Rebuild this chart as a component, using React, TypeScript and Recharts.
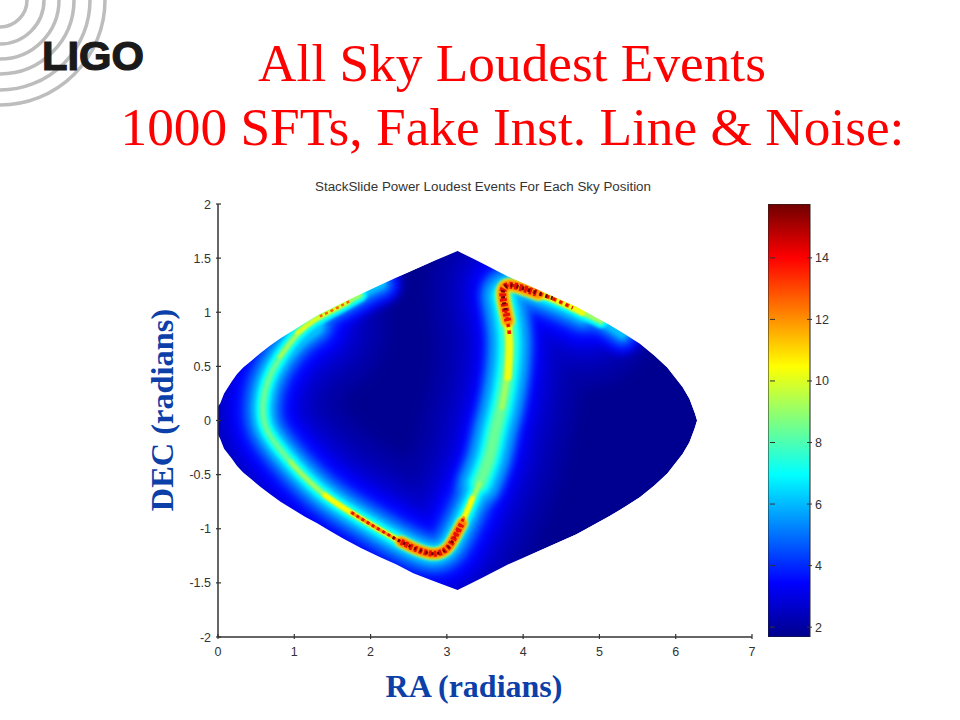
import React from "react";
import { ComposedChart, Area, Scatter, Bar, XAxis, YAxis } from "recharts";

const xTicks = [0, 1, 2, 3, 4, 5, 6, 7];
const yTicks = [-2, -1.5, -1, -0.5, 0, 0.5, 1, 1.5, 2];
const yTickLabels = ["-2", "-1.5", "-1", "-0.5", "0", "0.5", "1", "1.5", "2"];
const barTicks = [2, 4, 6, 8, 10, 12, 14];

const skyRa = [0, 0.03, 0.08, 0.18, 0.25, 0.33, 0.45, 0.55, 0.68, 0.82, 0.98, 1.14, 1.3, 1.47, 1.64, 1.88, 2.12, 2.34, 2.56, 2.85, 3.14, 3.3, 3.47, 3.8, 4.22, 4.7, 5.14, 5.33, 5.53, 5.72, 5.89, 6.0, 6.09, 6.18, 6.25, 6.28, 7];
const skyUpper = [0.13, 0.16, 0.25, 0.36, 0.43, 0.49, 0.56, 0.62, 0.69, 0.76, 0.83, 0.9, 0.97, 1.03, 1.09, 1.17, 1.25, 1.32, 1.39, 1.48, 1.565, 1.51, 1.45, 1.33, 1.2, 1.05, 0.88, 0.8, 0.71, 0.6, 0.49, 0.39, 0.31, 0.2, 0.07, 0, 0];
const skyLower = [-0.13, -0.17, -0.26, -0.35, -0.42, -0.48, -0.55, -0.61, -0.68, -0.75, -0.82, -0.89, -0.95, -1.02, -1.09, -1.18, -1.26, -1.33, -1.41, -1.49, -1.565, -1.51, -1.45, -1.33, -1.2, -1.05, -0.88, -0.8, -0.71, -0.6, -0.49, -0.39, -0.31, -0.2, -0.07, 0, 0];

const ridgeFull = [[2.14, 1.26], [2.03, 1.23], [1.86, 1.16], [1.51, 1.02], [1.25, 0.93], [1.04, 0.81], [0.81, 0.59], [0.64, 0.37], [0.58, 0.16], [0.59, -0.06], [0.81, -0.27], [1.07, -0.48], [1.34, -0.66], [1.6, -0.79], [1.95, -0.94], [2.29, -1.08], [2.56, -1.18], [2.82, -1.25], [3.01, -1.2], [3.13, -1.04], [3.26, -0.85], [3.43, -0.58], [3.57, -0.34], [3.63, -0.09], [3.72, 0.12], [3.8, 0.44], [3.83, 0.74], [3.79, 0.96], [3.71, 1.2], [3.79, 1.27], [4.05, 1.21], [4.39, 1.13], [4.78, 1.0], [5.1, 0.9], [5.3, 0.8]];
const ridgeHalo = [[1.25, 0.88], [1.04, 0.78], [0.81, 0.59], [0.64, 0.37], [0.58, 0.16], [0.59, -0.06], [0.81, -0.27], [1.07, -0.48], [1.34, -0.66], [1.6, -0.79], [1.95, -0.94], [2.29, -1.08], [2.56, -1.18], [2.82, -1.25], [3.01, -1.2], [3.13, -1.04], [3.26, -0.85], [3.43, -0.58], [3.57, -0.34], [3.63, -0.09], [3.72, 0.12], [3.8, 0.44], [3.83, 0.74], [3.79, 0.96], [3.71, 1.2], [3.79, 1.27], [4.05, 1.21], [4.39, 1.13], [4.78, 1.0]];
const ridgeBranch = [[3.43, -0.58], [3.57, -0.34], [3.63, -0.09], [3.72, 0.12], [3.8, 0.44], [3.83, 0.74], [3.79, 0.96], [3.74, 1.15]];
const ridgeGreen = [[1.86, 1.16], [1.51, 1.02], [1.25, 0.93], [1.04, 0.81], [0.81, 0.59], [0.64, 0.37], [0.58, 0.16], [0.59, -0.06], [0.81, -0.27], [1.07, -0.48], [1.34, -0.66], [1.6, -0.79], [1.95, -0.94], [2.29, -1.08], [2.56, -1.18], [2.82, -1.25], [3.01, -1.2], [3.13, -1.04], [3.26, -0.85], [3.43, -0.58], [3.57, -0.34], [3.63, -0.09], [3.72, 0.12], [3.8, 0.44], [3.83, 0.74], [3.79, 0.96], [3.71, 1.2], [3.79, 1.27], [4.05, 1.21], [4.39, 1.13], [4.78, 1.0], [5.02, 0.92]];
const limeUpper = [[1.86, 1.16], [1.51, 1.02], [1.25, 0.93], [1.04, 0.81], [0.81, 0.59]];
const limeLower = [[0.95, -0.38], [1.07, -0.48], [1.34, -0.66], [1.6, -0.79], [1.95, -0.94], [2.29, -1.08], [2.56, -1.18], [2.82, -1.25], [3.01, -1.2], [3.13, -1.04], [3.26, -0.85], [3.43, -0.58]];
const limeTop = [[3.72, 0.12], [3.8, 0.44], [3.83, 0.74], [3.79, 0.96], [3.71, 1.2], [3.79, 1.27], [4.05, 1.21], [4.39, 1.13], [4.78, 1.0], [5.02, 0.92]];
const yellowUpper = [[1.7, 1.09], [1.51, 1.02], [1.25, 0.93], [1.04, 0.81]];
const yellowLower = [[1.4, -0.69], [1.6, -0.79], [1.95, -0.94], [2.29, -1.08], [2.56, -1.18], [2.82, -1.25], [3.01, -1.2], [3.13, -1.04], [3.26, -0.85], [3.33, -0.72]];
const yellowTop = [[3.8, 0.4], [3.83, 0.74], [3.79, 0.96], [3.71, 1.2], [3.79, 1.27], [4.05, 1.21], [4.39, 1.13], [4.78, 1.0]];
const blobLower = [[2.4, -1.12], [2.56, -1.18], [2.82, -1.25], [3.01, -1.2], [3.1, -1.08], [3.2, -0.95]];
const blobTop = [[3.8, 0.92], [3.77, 1.02], [3.71, 1.2], [3.79, 1.27], [4.05, 1.21], [4.2, 1.17]];
const redUpper = [[1.72, 1.1], [1.51, 1.02], [1.33, 0.96]];
const redLower = [[1.75, -0.85], [1.95, -0.94], [2.29, -1.08], [2.56, -1.18], [2.82, -1.25], [3.01, -1.2], [3.13, -1.04], [3.22, -0.9]];
const redTop = [[3.82, 0.8], [3.79, 0.96], [3.71, 1.2], [3.79, 1.27], [4.05, 1.21], [4.39, 1.13], [4.65, 1.04]];
const darkLower = [[2.29, -1.08], [2.56, -1.18], [2.82, -1.25], [3.01, -1.2], [3.1, -1.08]];
const darkTop = [[3.77, 1.02], [3.71, 1.2], [3.79, 1.27], [4.05, 1.21], [4.39, 1.13]];

const colorbarRange = [1.68, 15.75];

const skyTable = skyRa.map((x, i) => ({
  x,
  sky: [skyLower[i], skyUpper[i]],
  above: [skyUpper[i], 2],
  below: [-2, skyLower[i]],
}));
const barTable = [{ name: "c", range: colorbarRange }];

const layers = [
  { pts: ridgeHalo, w: 150, c: "#0000a6", b: 7 },
  { pts: ridgeHalo, w: 112, c: "#0000c0", b: 7 },
  { pts: ridgeHalo, w: 84, c: "#0000dc", b: 6 },
  { pts: ridgeHalo, w: 64, c: "#0000ff", b: 5 },
  { pts: ridgeFull, w: 40, c: "#0000ff", b: 5 },
  { pts: ridgeFull, w: 28, c: "#0040ff", b: 4 },
  { pts: ridgeHalo, w: 44, c: "#0040ff", b: 4 },
  { pts: ridgeFull, w: 18, c: "#0080ff", b: 3 },
  { pts: ridgeHalo, w: 32, c: "#0080ff", b: 3 },
  { pts: ridgeBranch, w: 44, c: "#0080ff", b: 4 },
  { pts: ridgeFull, w: 10, c: "#00c0ff", b: 2 },
  { pts: ridgeHalo, w: 22, c: "#00c0ff", b: 2 },
  { pts: ridgeBranch, w: 32, c: "#00c0ff", b: 3 },
  { pts: ridgeGreen, w: 14, c: "#00ffff", b: 1.5 },
  { pts: ridgeBranch, w: 22, c: "#00ffff", b: 2 },
  { pts: ridgeGreen, w: 8, c: "#40ffc0", b: 1.2 },
  { pts: ridgeBranch, w: 13, c: "#60ffa0", b: 2 },
  { pts: ridgeGreen, w: 3, c: "#70ff90", b: 1 },
  { pts: limeUpper, w: 4, c: "#a0ff60", b: 1 },
  { pts: limeLower, w: 4, c: "#a0ff60", b: 1 },
  { pts: limeTop, w: 5, c: "#a0ff60", b: 1 },
  { pts: yellowUpper, w: 4, c: "#e0ff20", b: 1 },
  { pts: yellowLower, w: 5, c: "#ffff00", b: 1 },
  { pts: yellowTop, w: 7, c: "#f0ff10", b: 1.2 },
  { pts: blobLower, w: 12, c: "#ffe000", b: 1.5 },
  { pts: blobTop, w: 14, c: "#ffe000", b: 1.5 },
  { pts: redUpper, w: 2.5, c: "#ff6000", b: 0.4, d: "3 3" },
  { pts: redLower, w: 3, c: "#ff9000", b: 0.6 },
  { pts: blobLower, w: 9, c: "#ff8000", b: 0.8 },
  { pts: blobTop, w: 10, c: "#ff9000", b: 0.8 },
  { pts: redTop, w: 4, c: "#ff7000", b: 0.5, d: "4 3" },
  { pts: redLower, w: 3, c: "#e81000", b: 0.3, d: "3 3" },
  { pts: blobLower, w: 6, c: "#e81000", b: 0.3, d: "3 2" },
  { pts: redTop, w: 3, c: "#e81000", b: 0.3, d: "3 4" },
  { pts: blobTop, w: 7, c: "#e81000", b: 0.3, d: "3 2" },
  { pts: darkLower, w: 3, c: "#700000", b: 0, d: "2 4" },
  { pts: darkTop, w: 4, c: "#700000", b: 0, d: "2 4" },
];

const INK = "#333333";
const SERIF = "'Liberation Serif', serif";
const SANS = "'Liberation Sans', sans-serif";
const BLUE = "#0c3fa8";

const NoDot = () => <g />;

const XTick = ({ x, y, payload }: any) => (
  <g>
    <line x1={x} x2={x} y1={y} y2={y - 5} stroke={INK} strokeWidth={1.2} />
    <text x={x} y={y + 17} textAnchor="middle" fontSize={12.5} fontFamily={SANS} fill={INK}>{payload.value}</text>
  </g>
);
const YTick = ({ x, y, payload }: any) => (
  <g>
    <line x1={x} x2={x + 5} y1={y} y2={y} stroke={INK} strokeWidth={1.2} />
    <text x={x - 5} y={y + 4.5} textAnchor="end" fontSize={12.5} fontFamily={SANS} fill={INK}>
      {yTickLabels[yTicks.indexOf(payload.value)]}
    </text>
  </g>
);
const BarTick = ({ x, y, payload }: any) => (
  <g>
    <line x1={x - 5} x2={x} y1={y} y2={y} stroke={INK} strokeWidth={1} />
    <line x1={x - 42} x2={x - 37} y1={y} y2={y} stroke={INK} strokeWidth={1} />
    <text x={x + 3} y={y + 4.5} textAnchor="start" fontSize={12.5} fontFamily={SANS} fill={INK}>{payload.value}</text>
  </g>
);

export default function App() {
  return (
    <div style={{ position: "absolute", left: 0, top: 0, width: 960, height: 720, background: "#fff", overflow: "hidden" }}>
      <svg width={200} height={120} style={{ position: "absolute", left: 0, top: 0 }}>
        {[27, 44, 59, 74, 90, 105].map((r) => (
          <circle key={r} cx={0} cy={0} r={r} fill="none" stroke="#bdbdbd" strokeWidth={3.5} />
        ))}
        <text x={42} y={70} fontFamily={SANS} fontWeight={700} fontSize={40} textLength={102} lengthAdjust="spacingAndGlyphs" fill="#1a1a1a" stroke="#1a1a1a" strokeWidth={1.2}>LIGO</text>
      </svg>

      <svg width={960} height={200} style={{ position: "absolute", left: 0, top: 0 }}>
        <text x={512} y={81} textAnchor="middle" fill="#ff0000" fontFamily={SERIF} fontSize={53.3}>All Sky Loudest Events</text>
        <text x={512.5} y={145} textAnchor="middle" fill="#ff0000" fontFamily={SERIF} fontSize={53.3}>1000 SFTs, Fake Inst. Line &amp; Noise:</text>
        <text x={315} y={191} textLength={336} lengthAdjust="spacingAndGlyphs" fill={INK} fontFamily={SANS} fontSize={12}>StackSlide Power Loudest Events For Each Sky Position</text>
      </svg>

      <div style={{ position: "absolute", left: 178, top: 194 }}>
        <ComposedChart width={584} height={473} margin={{ top: 10, right: 10, left: 0, bottom: 0 }} data={skyTable}>
          <XAxis type="number" dataKey="x" domain={[0, 7]} ticks={xTicks} allowDataOverflow height={30} tickSize={0} tickLine={false} tick={<XTick />} stroke={INK} strokeWidth={1.5} interval={0} zIndex={900} />
          <YAxis type="number" dataKey="y" domain={[-2, 2]} ticks={yTicks} allowDataOverflow width={40} tickSize={0} tickLine={false} tick={<YTick />} stroke={INK} strokeWidth={1.5} interval={0} zIndex={900} />
          <Area type="linear" dataKey="sky" data={skyTable} fill="#000090" fillOpacity={1} stroke="none" isAnimationActive={false} dot={false} activeDot={false} zIndex={10} />
          {layers.map((l, i) => (
            <Scatter
              key={i}
              data={l.pts.map(([x, y]) => ({ x, y }))}
              shape={NoDot}
              isAnimationActive={false}
              lineType="joint"
              lineJointType="basis"
              zIndex={20 + i}
              line={{
                stroke: l.c,
                strokeWidth: l.w,
                strokeLinejoin: "round",
                strokeLinecap: l.d ? "butt" : "round",
                strokeDasharray: l.d,
                fill: "none",
                style: l.b ? { filter: `blur(${l.b}px)` } : undefined,
              }}
            />
          ))}
          <Area type="linear" dataKey="above" data={skyTable} fill="#ffffff" fillOpacity={1} stroke="none" isAnimationActive={false} dot={false} activeDot={false} zIndex={800} />
          <Area type="linear" dataKey="below" data={skyTable} fill="#ffffff" fillOpacity={1} stroke="none" isAnimationActive={false} dot={false} activeDot={false} zIndex={800} />
        </ComposedChart>
      </div>

      <div style={{ position: "absolute", left: 768, top: 194 }}>
        <ComposedChart width={80} height={453} margin={{ top: 10, right: 0, left: 0, bottom: 10 }} data={barTable} barCategoryGap={0}>
          <defs>
            <linearGradient id="jet" x1="0" y1="1" x2="0" y2="0">
              <stop offset="0" stopColor="#00008c" />
              <stop offset="0.125" stopColor="#0000ff" />
              <stop offset="0.375" stopColor="#00ffff" />
              <stop offset="0.625" stopColor="#ffff00" />
              <stop offset="0.875" stopColor="#ff0000" />
              <stop offset="1" stopColor="#700000" />
            </linearGradient>
          </defs>
          <XAxis type="category" dataKey="name" hide />
          <YAxis type="number" orientation="right" domain={colorbarRange} ticks={barTicks} allowDataOverflow width={38} tickSize={0} tickLine={false} axisLine={false} tick={<BarTick />} interval={0} zIndex={900} />
          <Bar dataKey="range" fill="url(#jet)" stroke="#222222" strokeWidth={1} isAnimationActive={false} />
        </ComposedChart>
      </div>

      <div style={{ position: "absolute", left: 474, top: 669, width: 0, display: "flex", justifyContent: "center", color: BLUE, fontFamily: SERIF, fontWeight: 700, fontSize: 32, lineHeight: "34px", whiteSpace: "nowrap" }}>RA (radians)</div>
      <div style={{ position: "absolute", left: 162, top: 410, width: 0, height: 0, display: "flex", justifyContent: "center", alignItems: "center", color: BLUE, fontFamily: SERIF, fontWeight: 700, fontSize: 32.4, lineHeight: "34px", whiteSpace: "nowrap", transform: "rotate(-90deg)" }}>DEC (radians)</div>
    </div>
  );
}
